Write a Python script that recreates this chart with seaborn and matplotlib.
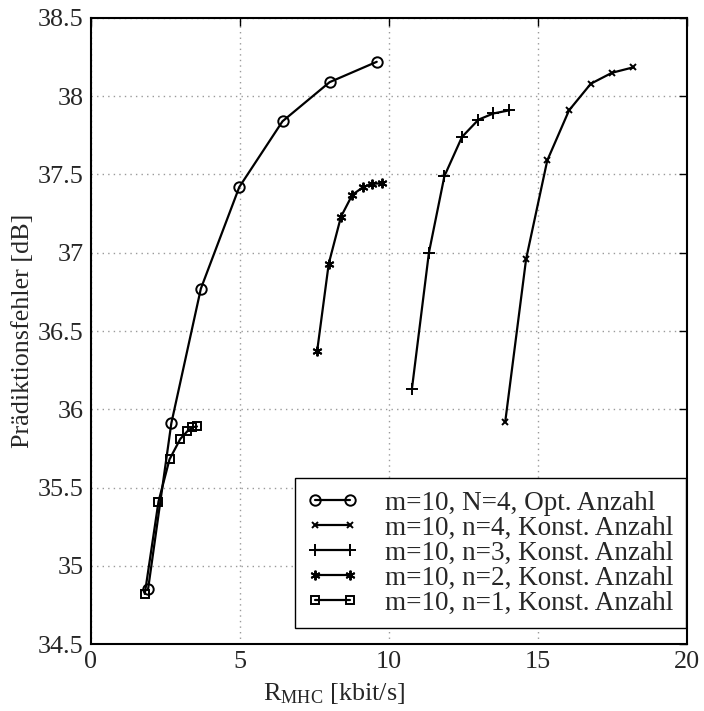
import numpy as np
import pandas as pd
import matplotlib
matplotlib.use("Agg")
import matplotlib.pyplot as plt
from matplotlib.ticker import FuncFormatter
import seaborn as sns

# Werte
rate_opt = [1.92, 2.70, 3.69, 4.98, 6.43, 8.01, 9.59]
fehler_opt = [34.85, 35.91, 36.77, 37.42, 37.84, 38.09, 38.22]

rate_n4 = [13.90, 14.60, 15.31, 16.04, 16.77, 17.48, 18.20]
fehler_n4 = [35.92, 36.96, 37.59, 37.91, 38.08, 38.15, 38.185]

rate_n3 = [10.77, 11.34, 11.86, 12.45, 13.00, 13.50, 14.04]
fehler_n3 = [36.13, 37.00, 37.49, 37.74, 37.85, 37.89, 37.91]

rate_n2 = [7.59, 7.98, 8.39, 8.77, 9.14, 9.44, 9.77]
fehler_n2 = [36.37, 36.93, 37.23, 37.37, 37.42, 37.44, 37.445]

rate_n1 = [1.81, 2.27, 2.64, 3.00, 3.24, 3.41, 3.56]
fehler_n1 = [34.82, 35.41, 35.68, 35.81, 35.86, 35.885, 35.89]

namen = [
    "m=10, N=4, Opt. Anzahl",
    "m=10, n=4, Konst. Anzahl",
    "m=10, n=3, Konst. Anzahl",
    "m=10, n=2, Konst. Anzahl",
    "m=10, n=1, Konst. Anzahl",
]
raten = [rate_opt, rate_n4, rate_n3, rate_n2, rate_n1]
fehler = [fehler_opt, fehler_n4, fehler_n3, fehler_n2, fehler_n1]

xticks = [0, 5, 10, 15, 20]
yticks = [34.5, 35, 35.5, 36, 36.5, 37, 37.5, 38, 38.5]

# DataFrame im Langformat
df = pd.concat(
    [pd.DataFrame({"serie": n, "rate": r, "fehler": f}) for n, r, f in zip(namen, raten, fehler)],
    ignore_index=True,
)

sns.set_style("white")
plt.rcParams["font.family"] = ["Liberation Serif", "DejaVu Serif"]
plt.rcParams["mathtext.fontset"] = "custom"
plt.rcParams["mathtext.rm"] = "Liberation Serif"
plt.rcParams["mathtext.it"] = "Liberation Serif:italic"

fs = 18.8

fig = plt.figure(figsize=(7.04, 7.11), dpi=100)
ax = fig.add_axes([0.129, 0.0942, 0.847, 0.8805])

marker_stil = {
    namen[0]: dict(marker="o", markersize=7.5, markerfacecolor="none"),
    namen[1]: dict(marker="x", markersize=5),
    namen[2]: dict(marker="+", markersize=8),
    namen[3]: dict(marker=(6, 2, 0), markersize=7),
    namen[4]: dict(marker="s", markersize=6, markerfacecolor="none"),
}

for name in namen:
    sub = df[df["serie"] == name]
    sns.lineplot(
        data=sub, x="rate", y="fehler", ax=ax, color="black", linewidth=1.6,
        estimator=None, errorbar=None, sort=False, label=name,
        markeredgecolor="black", markeredgewidth=1.4, **marker_stil[name],
    )

ax.set_xlim(0, 20)
ax.set_ylim(34.5, 38.5)
ax.set_xticks(xticks)
ax.set_yticks(yticks)
ax.yaxis.set_major_formatter(FuncFormatter(lambda v, p: f"{v:g}"))
ax.tick_params(direction="in", length=6, width=1, top=True, right=True,
               labelsize=fs, pad=5, color="black")

ax.grid(True, color="#9a9a9a", linestyle=(0, (1, 3)), linewidth=1.0)
for s in ax.spines.values():
    s.set_color("black")
    s.set_linewidth(1.5)

ax.set_xlabel(r"$\mathrm{R}_{\mathrm{MHC}}$ [kbit/s]", fontsize=fs, labelpad=0)
ax.xaxis.set_label_coords(0.408, -0.059)
ax.set_ylabel("Prädiktionsfehler [dB]", fontsize=fs, labelpad=3)

if ax.get_legend() is not None:
    ax.get_legend().remove()
handles, labels = ax.get_legend_handles_labels()
leg = ax.legend(handles, labels, loc="lower right", bbox_to_anchor=(0.998, 0.026),
                borderaxespad=0, numpoints=2, fontsize=19.5, handlelength=1.9,
                handletextpad=1.0, labelspacing=0.0, borderpad=0.45,
                fancybox=False, framealpha=1, edgecolor="black")
leg.get_frame().set_linewidth(1.0)

fig.savefig("out.png", dpi=100)
